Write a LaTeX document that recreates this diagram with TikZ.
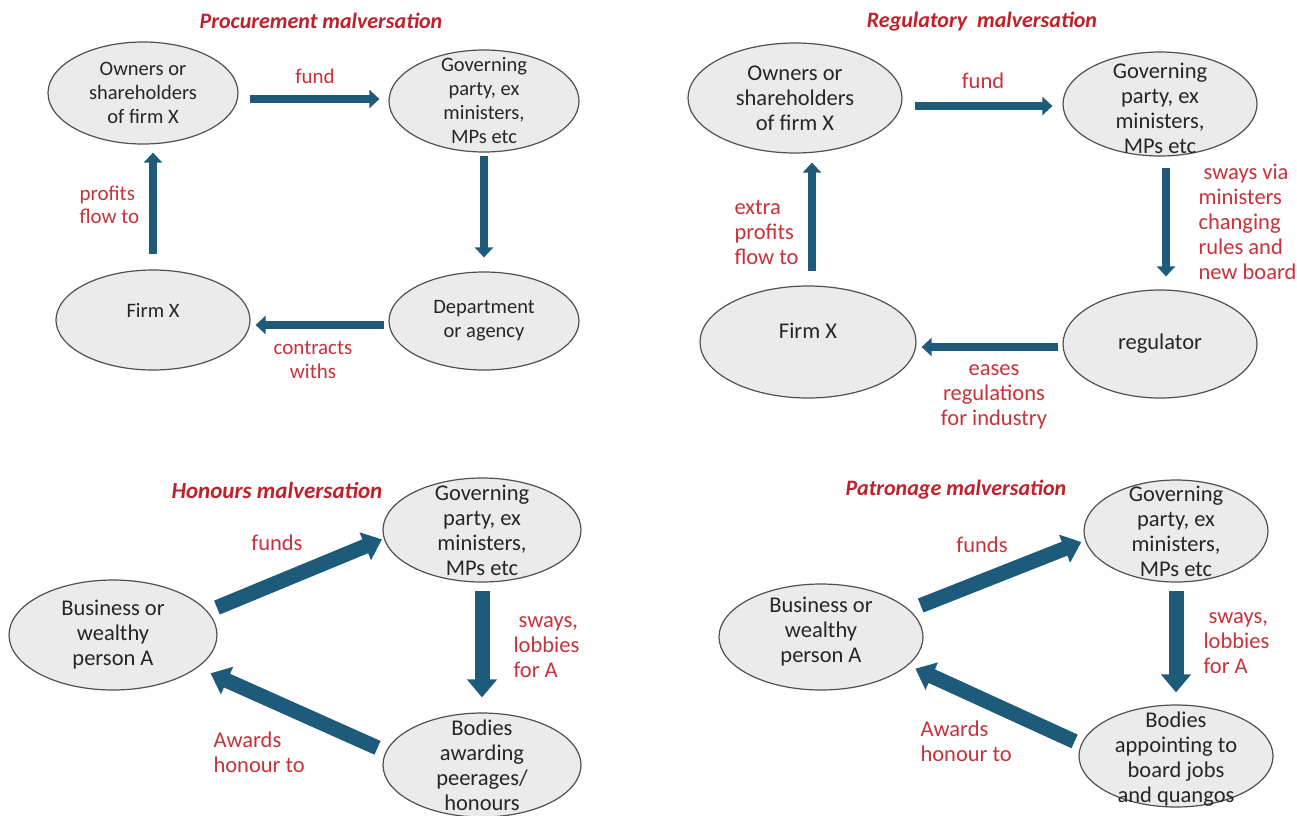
\documentclass[tikz,border=0pt]{standalone}
\usepackage{fontspec}
\setmainfont{Carlito}
\usepackage{tikz}
\usetikzlibrary{arrows.meta,shapes.geometric}
\definecolor{flowblue}{HTML}{1E5A7A}
\definecolor{tagred}{HTML}{C8323A}
\definecolor{headred}{HTML}{C0202A}
\definecolor{blobfill}{HTML}{EBEBEB}
\definecolor{blobedge}{HTML}{505050}
\definecolor{ink}{HTML}{262626}
\tikzset{
  every picture/.style={line join=round, >=Stealth},
  blob/.style={ellipse, draw=blobedge, line width=1.2pt, fill=blobfill, inner sep=0pt},
  words/.style={align=center, text=ink, font=\fontsize{22.5}{25}\selectfont},
  wordsone/.style={align=center, text=ink, font=\fontsize{20.5}{24}\selectfont},
  tag/.style={align=center, text=tagred, font=\fontsize{22.5}{25}\selectfont},
  tagone/.style={align=center, text=tagred, font=\fontsize{21}{23.5}\selectfont},
  head/.style={text=headred, font=\fontsize{22}{24}\selectfont\bfseries\itshape},
  flow/.style={draw=flowblue, line width=8pt, -{Triangle[length=10pt,width=18pt]}},
  bigflow/.style={draw=flowblue, line width=15pt, -{Triangle[length=18pt,width=29pt]}},
}

\begin{document}
\begin{tikzpicture}[x=1pt,y=-1pt]
\useasboundingbox (0,0) rectangle (1297,815);
\clip (0,0) rectangle (1297,815);
\fill[white] (0,0) rectangle (1297,815);

% procurement
\node[head] (t1) at (321,21) {Procurement malversation};
\node[blob, minimum width=190, minimum height=102, label={[wordsone]center:{Owners or\\shareholders\\of firm X}}] (own1) at (143,93) {};
\node[blob, minimum width=190, minimum height=102, label={[wordsone]center:{Governing\\party, ex\\ministers,\\MPs etc}}] (gov1) at (484,101) {};
\node[blob, minimum width=190, minimum height=98, label={[wordsone]center:{Department\\or agency}}] (dep) at (484,321) {};
\node[blob, minimum width=194, minimum height=100, label={[wordsone, yshift=10]center:Firm X}] (firm1) at (153,320) {};
\draw[flow, shorten <=11pt, shorten >=9pt] ([yshift=2]own1.east |- gov1.west) -- ([yshift=2]gov1.west);
\draw[flow, shorten <=3pt, shorten >=14pt] (gov1.south) -- (dep.north);
\draw[flow, shorten <=4pt, shorten >=5pt] ([yshift=-4]dep.west) -- ([yshift=-4]firm1.east |- dep.west);
\draw[flow, shorten <=15pt, shorten >=8pt] (firm1.north) -- (firm1.north |- own1.south);
\node[tagone] (fund1) at (315,76) {fund};
\node[tagone, align=left, anchor=west] (prof1) at (76,205) {profits\\flow to};
\node[tagone] (cont1) at (313,360) {contracts\\withs};

% regulatory
\node[head] (t2) at (982,22) {Regulatory\ \ malversation};
\node[blob, minimum width=214, minimum height=110, label={[words]center:{Owners or\\shareholders\\of firm X}}] (own2) at (795,98) {};
\node[blob, minimum width=194, minimum height=104, label={[words, yshift=-4]center:{Governing\\party, ex\\ministers,\\MPs etc}}] (gov2) at (1160,104) {};
\node[blob, minimum width=194, minimum height=108, label={[words]center:regulator}] (reg) at (1160,344) {};
\node[blob, minimum width=216, minimum height=112, label={[words, yshift=11]center:Firm X}] (firm2) at (808,342) {};
\draw[flow, shorten <=12pt, shorten >=10pt] ([yshift=-2]own2.east |- gov2.west) -- ([yshift=-2]gov2.west);
\draw[flow, shorten <=11pt, shorten >=13pt] ([xshift=6]gov2.south) -- ([xshift=6]reg.north);
\draw[flow, shorten <=4pt, shorten >=5pt] ([yshift=-3]reg.west) -- ([yshift=-3]firm2.east |- reg.west);
\draw[flow, shorten <=14pt, shorten >=9pt] ([xshift=4]firm2.north) -- ([xshift=4]firm2.north |- own2.south);
\node[tag] (fund2) at (983,81) {fund};
\node[tag, align=left, anchor=west] (prof2) at (731,232) {extra\\profits\\flow to};
\node[tag, align=left, anchor=west] (sway2) at (1195,222) {\ sways via\\ministers\\changing\\rules and\\new board};
\node[tag] (ease2) at (994,397) {eases\\regulations\\for industry};

% honours
\node[head, font=\fontsize{23}{25}\selectfont\bfseries\itshape] (t3) at (277,490) {Honours malversation};
\node[blob, minimum width=208, minimum height=110, label={[words]center:{Business or\\wealthy\\person A}}] (biz3) at (113,635) {};
\node[blob, minimum width=198, minimum height=104, label={[words]center:{Governing\\party, ex\\ministers,\\MPs etc}}] (gov3) at (482,530) {};
\node[blob, minimum width=198, minimum height=104, label={[words]center:{Bodies\\awarding\\peerages/\\honours}}] (bod3) at (482,765) {};
\draw[bigflow, shorten <=10pt, shorten >=2pt] (biz3.14) -- (gov3.185);
\draw[bigflow, shorten <=8pt, shorten >=15pt] (gov3.south) -- (bod3.north);
\draw[bigflow, shorten <=9pt, shorten >=14pt] (bod3.172) -- (biz3.-21);
\node[tag] (fund3) at (277,543) {funds};
\node[tag, align=left, anchor=west] (sway3) at (510,647) {\ sways,\\lobbies\\for A};
\node[tag, align=left, anchor=west] (award3) at (210,752) {Awards\\honour to};

% patronage
\node[head] (t4) at (956,490) {Patronage malversation};
\node[blob, minimum width=204, minimum height=106, label={[words, yshift=5]center:{Business or\\wealthy\\person A}}] (biz4) at (821,637) {};
\node[blob, minimum width=184, minimum height=102, label={[words]center:{Governing\\party, ex\\ministers,\\MPs etc}}] (gov4) at (1176,531) {};
\node[blob, minimum width=194, minimum height=102, label={[words, yshift=-3]center:{Bodies\\appointing to\\board jobs\\and quangos}}] (bod4) at (1176,756) {};
\draw[bigflow, shorten <=12pt, shorten >=4pt] (biz4.17) -- (gov4.186);
\draw[bigflow, shorten <=8pt, shorten >=12pt] (gov4.south) -- (bod4.north);
\draw[bigflow, shorten <=7pt, shorten >=8pt] (bod4.173) -- (biz4.-18);
\node[tag] (fund4) at (982,545) {funds};
\node[tag, align=left, anchor=west] (sway4) at (1200,643) {\ sways,\\lobbies\\for A};
\node[tag, align=left, anchor=west] (award4) at (917,741) {Awards\\honour to};
\end{tikzpicture}
\end{document}
